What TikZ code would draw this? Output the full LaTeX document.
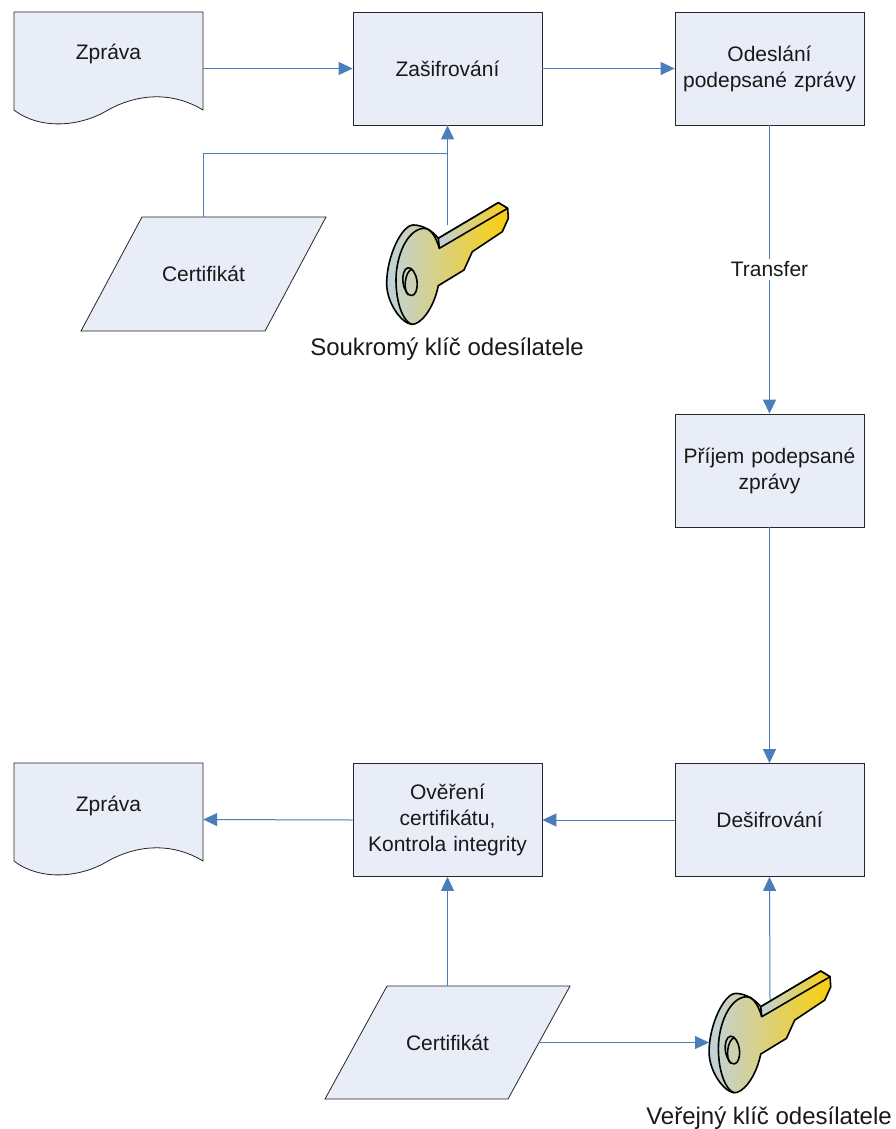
\documentclass[tikz,border=0pt]{standalone}
\usepackage{fontspec}
\setmainfont{Liberation Sans}
\usetikzlibrary{arrows.meta}
\definecolor{boxfill}{HTML}{E8EDF7}
\definecolor{linkblue}{HTML}{4A7EBB}
\definecolor{keyleft}{HTML}{BFD2DC}
\definecolor{keymid}{HTML}{DFC468}
\definecolor{keyright}{HTML}{FBCF0C}
\tikzset{
  boxtext/.style={font=\fontsize{21}{26}\selectfont,align=center,text=black!90},
  stepbox/.style={boxtext,rectangle,draw=black!85,line width=0.8pt,fill=boxfill,minimum width=189pt,minimum height=113pt,inner sep=2pt,text width=185pt},
  anchorbox/.style={rectangle,minimum width=189pt,minimum height=113pt,inner sep=0pt},
  shapeline/.style={draw=black!85,line width=0.8pt,fill=boxfill},
  link/.style={draw=linkblue,line width=1pt},
  arrowlink/.style={link,-{Triangle[length=14pt,width=13pt]}},
  keytext/.style={font=\fontsize{24}{28}\selectfont,text=black!90}
}
\newcommand{\keydrawing}[2]{%
\begin{scope}[xshift=#1pt,yshift=-#2pt,x=0.3333pt,y=-0.3333pt,line width=1.6pt,line join=round]
  \shade[left color=keyleft,middle color=keymid,right color=keyright,draw=black]
    (205,145) -- (385,38) -- (413,55) -- (415,85) -- (397,125) -- (307,185) -- (282,240) -- (205,287)
    .. controls (190,360) and (150,405) .. (125,403)
    .. controls (95,400) and (50,340) .. (50,280)
    .. controls (50,200) and (95,105) .. (130,105)
    .. controls (160,105) and (190,125) .. (205,145) -- cycle;
  \shade[left color=keyleft,right color=keyright,draw=black]
    (205,145) -- (385,38) -- (413,55) -- (208,175) -- cycle;
  \draw (208,175) .. controls (195,130) and (175,112) .. (160,115)
    .. controls (110,120) and (78,200) .. (78,270)
    .. controls (78,340) and (100,395) .. (125,403);
  \draw[rotate around={8:(120,275)}] (120,275) ellipse [x radius=21,y radius=42];
  \draw (125,238) .. controls (105,245) and (98,300) .. (115,315);
\end{scope}}
\begin{document}
\begin{tikzpicture}[x=1pt,y=-1pt]
\useasboundingbox (0,0) rectangle (896,1129);
\fill[white] (0,0) rectangle (896,1129);

% document shapes
\path[shapeline] (14,12) -- (203,12) -- (203,110) .. controls (170,90) and (135,95) .. (108,110) .. controls (80,127) and (40,130) .. (14,110) -- cycle;
\path[shapeline] (14,763) -- (203,763) -- (203,861) .. controls (170,841) and (135,846) .. (108,861) .. controls (80,878) and (40,881) .. (14,861) -- cycle;
% parallelograms
\path[shapeline] (142,217) -- (326,217) -- (265,331) -- (81,331) -- cycle;
\path[shapeline] (387,986) -- (570,986) -- (508,1099) -- (325,1099) -- cycle;

\node[anchorbox] (zprava1) at (108.5,68.5) {};
\node[boxtext] at (108.5,54) {Zpráva};
\node[anchorbox] (zprava2) at (108.5,819.5) {};
\node[boxtext] at (108.5,806) {Zpráva};
\node[boxtext,inner sep=0pt,minimum width=122pt,minimum height=113pt] (cert1) at (203.5,274) {Certifikát};
\node[boxtext,inner sep=0pt,minimum width=122pt,minimum height=113pt] (cert2) at (447.5,1042.5) {Certifikát};

\node[stepbox] (sifr) at (447.5,68.5) {Zašifrování};
\node[stepbox] (odes) at (769.5,68.5) {Odeslání\\podepsané zprávy};
\node[stepbox] (prij) at (769.5,470.5) {Příjem podepsané\\zprávy};
\node[stepbox] (desif) at (769.5,820) {Dešifrování};
\node[stepbox] (over) at (447.5,820) {Ověření\\certifikátu,\\Kontrola integrity};

\coordinate (key1top) at (447.5,225);
\coordinate (key2top) at (770,1000);
\coordinate (key2in) at (709,1042.5);
\coordinate (certbend) at (203.5,153);
\coordinate (cert2out) at (540,1042.5);

% connectors
\draw[arrowlink] (zprava1.east) -- (sifr.west);
\draw[arrowlink] (sifr.east) -- (odes.west);
\draw[arrowlink] (odes.south) -- node[boxtext,fill=white,inner sep=3pt,pos=0.5] {Transfer} (prij.north);
\draw[arrowlink] (prij.south) -- (desif.north);
\draw[arrowlink] (desif.west) -- (over.east);
\draw[arrowlink] (over.west) -- (zprava2.east);
\draw[arrowlink] (cert2.north) -- (over.south);
\draw[arrowlink] (key1top) -- (sifr.south);
\draw[arrowlink] (key2top) -- (desif.south);
\draw[link] (cert1.north) -- (certbend) -| (sifr.south);
\draw[arrowlink] (cert2out) -- (key2in);

\keydrawing{370}{190}
\keydrawing{692.4}{958.4}

\node[keytext] (key1lbl) at (447,349) {Soukromý klíč odesílatele};
\node[keytext] (key2lbl) at (769,1118) {Veřejný klíč odesílatele};
\end{tikzpicture}
\end{document}
